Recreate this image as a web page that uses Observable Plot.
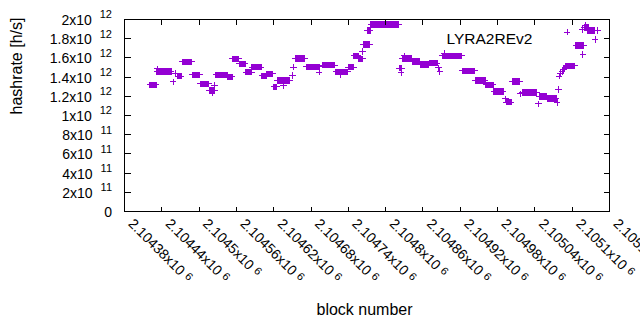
<!DOCTYPE html>
<html><head><meta charset="utf-8">
<script src="https://cdn.jsdelivr.net/npm/d3@7"></script>
<script src="https://cdn.jsdelivr.net/npm/@observablehq/plot@0.6"></script>
<style>body{margin:0;background:#fff;overflow:hidden} #chart svg{display:block}</style>
</head><body><div id="chart"></div>
<script>
// Runs of consecutive blocks sharing the same hashrate (start block, end block, rate)
const runStart = [2104421,2104432,2104466,2104473,2104489,2104502,2104516,2104527,2104546,2104554,2104565,2104575,2104585,2104601,2104609,2104620,2104626,2104655,2104672,2104698,2104720,2104740,2104749,2104757,2104764,2104770,2104776,2104822,2104827,2104843,2104856,2104870,2104891,2104923,2104944,2104961,2104974,2104994,2105004,2105020,2105047,2105060,2105090,2105106,2105119,2105125];
const runEnd   = [2104431,2104455,2104471,2104488,2104501,2104515,2104525,2104545,2104553,2104564,2104574,2104584,2104600,2104608,2104618,2104625,2104646,2104670,2104694,2104718,2104739,2104748,2104756,2104763,2104774,2104775,2104821,2104826,2104842,2104855,2104869,2104883,2104922,2104943,2104960,2104973,2104989,2105002,2105016,2105043,2105059,2105074,2105104,2105118,2105126,2105136];
const runRate  = [1.318e12,1.458e12,1.411e12,1.559e12,1.425e12,1.330e12,1.260e12,1.424e12,1.403e12,1.591e12,1.539e12,1.453e12,1.505e12,1.414e12,1.434e12,1.297e12,1.365e12,1.594e12,1.507e12,1.526e12,1.455e12,1.505e12,1.620e12,1.591e12,1.740e12,1.885e12,1.950e12,1.493e12,1.594e12,1.562e12,1.531e12,1.544e12,1.622e12,1.466e12,1.365e12,1.320e12,1.250e12,1.139e12,1.354e12,1.240e12,1.198e12,1.177e12,1.518e12,1.729e12,1.915e12,1.885e12];
// Isolated blocks
const pointBlock = [2104433,2104458,2104462,2104521,2104525,2104636,2104650,2104652,2104693,2104727,2104763,2104825,2104830,2104885,2104887,2104894,2104993,2105017,2105046,2105076,2105078,2105079,2105081,2105084,2105086,2105088,2105092,2105116,2105117,2105121,2105137,2105141];
const pointRate  = [1.486e12,1.349e12,1.438e12,1.240e12,1.313e12,1.313e12,1.417e12,1.503e12,1.453e12,1.422e12,1.667e12,1.445e12,1.620e12,1.495e12,1.458e12,1.646e12,1.172e12,1.226e12,1.122e12,1.135e12,1.271e12,1.411e12,1.438e12,1.458e12,1.479e12,1.495e12,1.868e12,1.896e12,1.635e12,1.938e12,1.792e12,1.885e12];

const xTickValues = [2104380,2104440,2104500,2104560,2104620,2104680,2104740,2104800,2104860,2104920,2104980,2105040,2105100,2105160];
const xTickLabels = ["2.10438x10","2.10444x10","2.1045x10","2.10456x10","2.10462x10","2.10468x10","2.10474x10","2.1048x10","2.10486x10","2.10492x10","2.10498x10","2.10504x10","2.1051x10","2.10516x10"];
const xTickExponents = ["6","6","6","6","6","6","6","6","6","6","6","6","6","6"];
const yTickValues = [0,2e11,4e11,6e11,8e11,1e12,1.2e12,1.4e12,1.6e12,1.8e12,2e12];
const yTickLabels = ["0","2x10","4x10","6x10","8x10","1x10","1.2x10","1.4x10","1.6x10","1.8x10","2x10"];
const yTickExponents = ["","11","11","11","11","12","12","12","12","12","12"];
const seriesName = "LYRA2REv2";
const xTitle = "block number";
const yTitle = "hashrate [h/s]";

const points = [];
runStart.forEach((s, i) => { for (let b = s; b <= runEnd[i]; b++) points.push({block: b, rate: runRate[i]}); });
pointBlock.forEach((b, i) => points.push({block: b, rate: pointRate[i]}));

const plusSym = {draw(ctx, size) { const r = Math.sqrt(size / Math.PI); ctx.moveTo(-r, 0); ctx.lineTo(r, 0); ctx.moveTo(0, -r); ctx.lineTo(0, r); }};
const seg = (dx, dy) => ({draw(ctx) { ctx.moveTo(0, 0); ctx.lineTo(dx, dy); }});
const tickStyle = {stroke: "black", fill: "none", strokeWidth: 1, shapeRendering: "crispEdges"};

const chart = Plot.plot({
  width: 640, height: 330,
  marginLeft: 124, marginRight: 31, marginTop: 19, marginBottom: 119,
  x: {domain: [2104380, 2105160], axis: null},
  y: {domain: [0, 2e12], axis: null},
  style: {fontFamily: "'Liberation Sans', Arial, sans-serif", fontSize: "14px", color: "black", background: "white"},
  marks: [
    Plot.dot(points, {x: "block", y: "rate", symbol: plusSym, r: 3.2, stroke: "#9400d3", fill: "none", strokeWidth: 1, shapeRendering: "crispEdges"}),
    Plot.frame({stroke: "black", strokeWidth: 1, shapeRendering: "crispEdges"}),
    Plot.dot(yTickValues, {y: d => d, frameAnchor: "left", symbol: seg(6, 0), ...tickStyle}),
    Plot.dot(yTickValues, {y: d => d, frameAnchor: "right", symbol: seg(-6, 0), ...tickStyle}),
    Plot.dot(xTickValues, {x: d => d, frameAnchor: "bottom", symbol: seg(0, -5), ...tickStyle}),
    Plot.dot(xTickValues, {x: d => d, frameAnchor: "top", symbol: seg(0, 5), ...tickStyle}),
    Plot.text(yTickValues, {y: d => d, frameAnchor: "left", textAnchor: "end", dx: -12.5, dy: 1, fill: "black", text: (d, i) => yTickLabels[i], ariaDescription: "ylabels"}),
    Plot.text(xTickValues, {x: d => d, frameAnchor: "bottom", rotate: 45, textAnchor: "start", dx: 3, dy: 13, fill: "black", text: (d, i) => xTickLabels[i], ariaDescription: "xlabels"}),
    Plot.text([yTitle], {frameAnchor: "left", rotate: -90, dx: -108, dy: -1, fontSize: 16, fill: "black", text: d => d}),
    Plot.text([xTitle], {frameAnchor: "bottom", dx: -2.5, dy: 103.5, fontSize: 16, fill: "black", text: d => d}),
    Plot.text([seriesName], {frameAnchor: "top-left", textAnchor: "start", dx: 322, dy: 13, fontSize: 15.5, fill: "black", text: d => d})
  ]
});

const NS = "http://www.w3.org/2000/svg";
function addSup(selector, exps, dx, dy, fs) {
  chart.querySelectorAll(selector + " text").forEach((t, i) => {
    const e = exps[i];
    if (!e) return;
    const ts = document.createElementNS(NS, "tspan");
    ts.setAttribute("dx", dx); ts.setAttribute("dy", dy); ts.setAttribute("font-size", fs);
    ts.textContent = e;
    t.appendChild(ts);
  });
}
addSup('g[aria-description="ylabels"]', yTickExponents, 8, -6.5, 11);
addSup('g[aria-description="xlabels"]', xTickExponents, 4, -3, 11);

document.getElementById("chart").appendChild(chart);
</script>
</body></html>
